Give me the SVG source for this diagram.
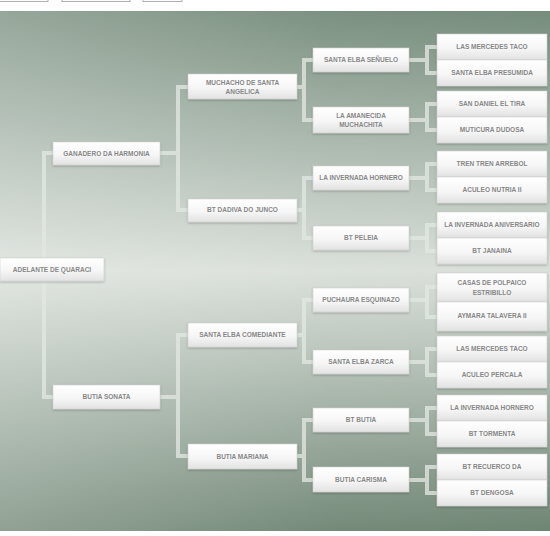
<svg xmlns="http://www.w3.org/2000/svg" width="550" height="536" viewBox="0 0 550 536">
<defs>
<linearGradient id="panel" x1="0" y1="0" x2="0" y2="1">
<stop offset="0" stop-color="#738a79"/>
<stop offset="0.5" stop-color="#d9dfd9"/>
<stop offset="1" stop-color="#6c8371"/>
</linearGradient>
<linearGradient id="sheen" x1="0" y1="0" x2="1" y2="0">
<stop offset="0" stop-color="#ffffff" stop-opacity="0.25"/>
<stop offset="0.6" stop-color="#ffffff" stop-opacity="0.06"/>
<stop offset="1" stop-color="#ffffff" stop-opacity="0.02"/>
</linearGradient>
<linearGradient id="boxg" x1="0" y1="0" x2="0" y2="1">
<stop offset="0" stop-color="#ffffff"/>
<stop offset="0.55" stop-color="#f6f6f6"/>
<stop offset="1" stop-color="#e2e2e2"/>
</linearGradient>
<filter id="sh" x="-10%" y="-20%" width="120%" height="150%">
<feDropShadow dx="0" dy="1" stdDeviation="0.8" flood-color="#000" flood-opacity="0.25"/>
</filter>
</defs>
<style>
.bx rect{fill:url(#boxg);stroke:#d0d0d0;stroke-width:0.6;filter:url(#sh)}
.bx text{font-family:"Liberation Sans",Arial,sans-serif;font-size:6.5px;font-weight:bold;fill:#888888;text-anchor:middle}
.ln{fill:none;stroke:#e2e7e2;stroke-opacity:0.78;stroke-width:4}
.top{fill:none;stroke:#b0b0b0;stroke-width:1}
</style>
<rect x="0" y="0" width="550" height="536" fill="#ffffff"/>
<g id="topbar">
<rect class="top" x="-1" y="-10" width="49" height="11.5"/>
<rect class="top" x="62" y="-10" width="68" height="11.5"/>
<rect class="top" x="143" y="-10" width="39" height="11.5"/>
</g>
<rect x="0" y="11" width="550" height="520" fill="url(#panel)"/>
<rect x="0" y="11" width="550" height="520" fill="url(#sheen)"/>
<g id="connectors">
<path class="ln" d="M53,153 H44 V397 H53"/>
<path class="ln" d="M188,87 H178 V210 H188 M160,153 H178"/>
<path class="ln" d="M188,335 H178 V456 H188 M160,397 H178"/>
<path class="ln" d="M313,60 H304 V120 H313 M297,87 H304"/>
<path class="ln" d="M313,178 H304 V238 H313 M297,210 H304"/>
<path class="ln" d="M313,300 H304 V362 H313 M297,335 H304"/>
<path class="ln" d="M313,420 H304 V480 H313 M297,456 H304"/>
<path class="ln" d="M437,47 H427 V73 H437 M409,60 H427"/>
<path class="ln" d="M437,104 H427 V130 H437 M409,120 H427"/>
<path class="ln" d="M437,164 H427 V190 H437 M409,178 H427"/>
<path class="ln" d="M437,225 H427 V251 H437 M409,238 H427"/>
<path class="ln" d="M437,287 H427 V317 H437 M409,300 H427"/>
<path class="ln" d="M437,349 H427 V375 H437 M409,362 H427"/>
<path class="ln" d="M437,408 H427 V434 H437 M409,420 H427"/>
<path class="ln" d="M437,467 H427 V493 H437 M409,480 H427"/>
</g>
<g id="n0" class="bx"><rect x="0" y="258" width="104" height="23"/><text x="52" y="272.4">ADELANTE DE QUARACI</text></g>
<g id="n1" class="bx"><rect x="53" y="142" width="107" height="23"/><text x="106.5" y="155.9">GANADERO DA HARMONIA</text></g>
<g id="n2" class="bx"><rect x="53" y="385" width="107" height="24"/><text x="106.5" y="399.4">BUTIA SONATA</text></g>
<g id="n3" class="bx"><rect x="188" y="74" width="109" height="25"/><text x="242.5" y="84.5">MUCHACHO DE SANTA</text><text x="242.5" y="94">ANGELICA</text></g>
<g id="n4" class="bx"><rect x="188" y="199" width="109" height="23"/><text x="242.5" y="212.4">BT DADIVA DO JUNCO</text></g>
<g id="n5" class="bx"><rect x="188" y="323" width="109" height="24"/><text x="242.5" y="337.4">SANTA ELBA COMEDIANTE</text></g>
<g id="n6" class="bx"><rect x="188" y="444" width="109" height="25"/><text x="242.5" y="458.9">BUTIA MARIANA</text></g>
<g id="n7" class="bx"><rect x="313" y="48" width="96" height="24"/><text x="361" y="62.4">SANTA ELBA SEÑUELO</text></g>
<g id="n8" class="bx"><rect x="313" y="107" width="96" height="26"/><text x="361" y="117.5">LA AMANECIDA</text><text x="361" y="127">MUCHACHITA</text></g>
<g id="n9" class="bx"><rect x="313" y="166" width="96" height="24"/><text x="361" y="180.4">LA INVERNADA HORNERO</text></g>
<g id="n10" class="bx"><rect x="313" y="226" width="96" height="24"/><text x="361" y="240.4">BT PELEIA</text></g>
<g id="n11" class="bx"><rect x="313" y="288" width="96" height="24"/><text x="361" y="302.4">PUCHAURA ESQUINAZO</text></g>
<g id="n12" class="bx"><rect x="313" y="350" width="96" height="24"/><text x="361" y="364.4">SANTA ELBA ZARCA</text></g>
<g id="n13" class="bx"><rect x="313" y="408" width="96" height="24"/><text x="361" y="422.4">BT BUTIA</text></g>
<g id="n14" class="bx"><rect x="313" y="467" width="96" height="25"/><text x="361" y="482.4">BUTIA CARISMA</text></g>
<g id="n15" class="bx"><rect x="437" y="34" width="110" height="26"/><text x="492" y="49.4">LAS MERCEDES TACO</text></g>
<g id="n16" class="bx"><rect x="437" y="60" width="110" height="26"/><text x="492" y="75.4">SANTA ELBA PRESUMIDA</text></g>
<g id="n17" class="bx"><rect x="437" y="91" width="110" height="26"/><text x="492" y="106.4">SAN DANIEL EL TIRA</text></g>
<g id="n18" class="bx"><rect x="437" y="117" width="110" height="26"/><text x="492" y="132.4">MUTICURA DUDOSA</text></g>
<g id="n19" class="bx"><rect x="437" y="151" width="110" height="26"/><text x="492" y="166.4">TREN TREN ARREBOL</text></g>
<g id="n20" class="bx"><rect x="437" y="177" width="110" height="26"/><text x="492" y="192.4">ACULEO NUTRIA II</text></g>
<g id="n21" class="bx"><rect x="437" y="212" width="110" height="26"/><text x="492" y="227.4">LA INVERNADA ANIVERSARIO</text></g>
<g id="n22" class="bx"><rect x="437" y="238" width="110" height="26"/><text x="492" y="253.4">BT JANAINA</text></g>
<g id="n23" class="bx"><rect x="437" y="273" width="110" height="29"/><text x="492" y="285">CASAS DE POLPAICO</text><text x="492" y="294.5">ESTRIBILLO</text></g>
<g id="n24" class="bx"><rect x="437" y="302" width="110" height="29"/><text x="492" y="318.4">AYMARA TALAVERA II</text></g>
<g id="n25" class="bx"><rect x="437" y="336" width="110" height="26"/><text x="492" y="351.4">LAS MERCEDES TACO</text></g>
<g id="n26" class="bx"><rect x="437" y="362" width="110" height="26"/><text x="492" y="377.4">ACULEO PERCALA</text></g>
<g id="n27" class="bx"><rect x="437" y="395" width="110" height="26"/><text x="492" y="410.4">LA INVERNADA HORNERO</text></g>
<g id="n28" class="bx"><rect x="437" y="421" width="110" height="26"/><text x="492" y="436.4">BT TORMENTA</text></g>
<g id="n29" class="bx"><rect x="437" y="454" width="110" height="26"/><text x="492" y="469.4">BT RECUERCO DA</text></g>
<g id="n30" class="bx"><rect x="437" y="480" width="110" height="26"/><text x="492" y="495.4">BT DENGOSA</text></g>
</svg>
